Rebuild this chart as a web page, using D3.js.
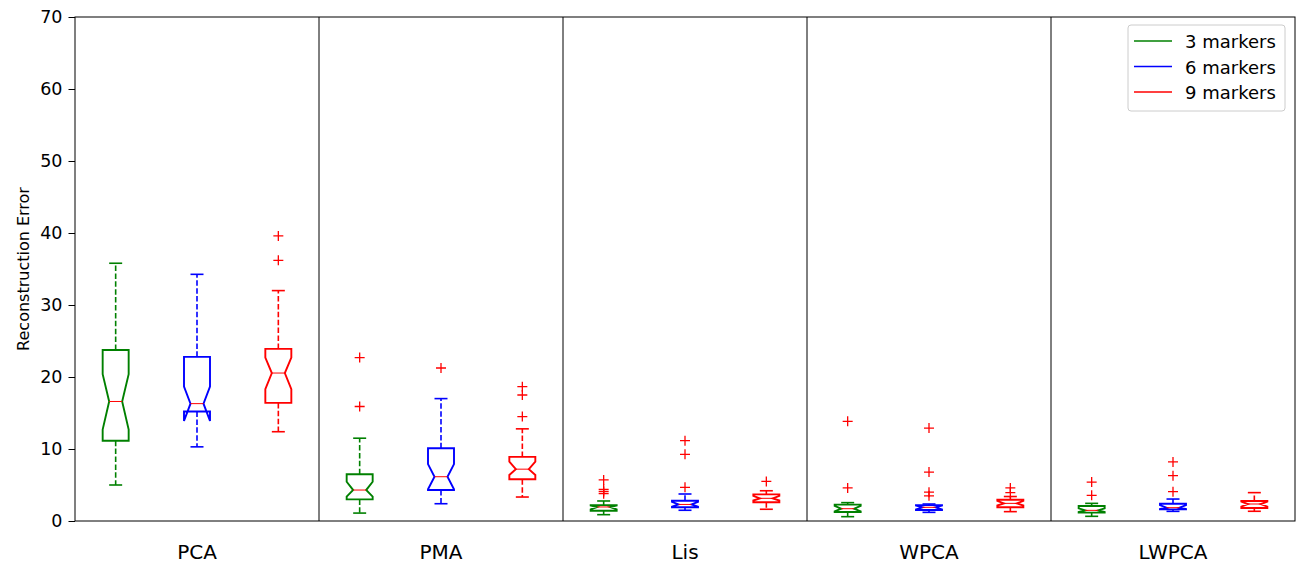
<!DOCTYPE html>
<html>
<head>
<meta charset="utf-8">
<script src="https://cdn.jsdelivr.net/npm/d3@7/dist/d3.min.js"></script>
<style>
  html, body { margin: 0; padding: 0; background: #fff; }
  text { font-family: "DejaVu Sans", sans-serif; }
</style>
</head>
<body>
<svg id="chart" width="1296" height="564"></svg>
<script>
// ---- data ----
const categories = ["PCA", "PMA", "Lis", "WPCA", "LWPCA"];
const seriesNames = ["3 markers", "6 markers", "9 markers"];
const seriesColors = ["#008000", "#0000ff", "#ff0000"];
const yTicks = [0, 10, 20, 30, 40, 50, 60, 70];

// per series (3, 6, 9 markers), per category
const whisLo = [
  [5.0, 1.1, 0.88, 0.6, 0.65],
  [10.3, 2.4, 1.49, 1.2, 1.34],
  [12.4, 3.33, 1.63, 1.3, 1.35]
];
const q1 = [
  [11.15, 3.0, 1.43, 1.25, 1.16],
  [15.2, 4.3, 1.9, 1.53, 1.62],
  [16.4, 5.8, 2.6, 1.9, 1.8]
];
const notchLo = [
  [12.7, 3.4, 1.6, 1.35, 1.25],
  [13.9, 4.4, 2.0, 1.6, 1.65],
  [18.3, 6.4, 2.85, 2.15, 2.0]
];
const medians = [
  [16.6, 4.3, 1.95, 1.71, 1.48],
  [16.3, 6.15, 2.3, 1.9, 1.85],
  [20.55, 7.2, 3.15, 2.45, 2.36]
];
const notchHi = [
  [20.4, 5.45, 2.15, 2.1, 1.75],
  [18.66, 7.9, 2.65, 2.15, 2.2],
  [22.7, 8.25, 3.5, 2.8, 2.7]
];
const q3 = [
  [23.75, 6.5, 2.2, 2.27, 2.08],
  [22.8, 10.1, 2.82, 2.2, 2.4],
  [23.9, 8.9, 3.7, 2.96, 2.78]
];
const whisHi = [
  [35.8, 11.5, 2.78, 2.55, 2.45],
  [34.26, 17.0, 3.75, 2.36, 3.05],
  [32.0, 12.8, 4.2, 3.4, 3.94]
];
const fliers = [
  [[], [22.7, 15.9], [5.7, 4.4, 4.1, 3.8], [13.85, 4.6], [5.4, 3.56]],
  [[], [21.25], [11.15, 9.26, 4.68], [12.9, 6.8, 4.0, 3.5], [8.2, 6.3, 4.07]],
  [[39.6, 36.2], [18.65, 17.5, 14.5], [5.5], [4.6, 3.95], []]
];

// ---- layout ----
const svg = d3.select("#chart");
const pLeft = 75, pRight = 1295, pTop = 17, pBottom = 521;
const boxW = 26;

const x = d3.scaleBand().domain(categories).range([pLeft, pRight]).padding(0);
const xs = d3.scalePoint().domain(seriesNames).range([0, x.bandwidth()]).padding(0.5);
const y = d3.scaleLinear().domain([0, 70]).range([pBottom, pTop]);

// group dividers
svg.append("g").selectAll("line")
  .data(categories.slice(1))
  .join("line")
  .attr("x1", d => x(d)).attr("x2", d => x(d))
  .attr("y1", pTop).attr("y2", pBottom)
  .attr("stroke", "#000").attr("stroke-width", 1);

// boxes
const boxes = [];
seriesNames.forEach((s, si) => {
  categories.forEach((c, ci) => {
    boxes.push({ s, si, c, ci,
      cx: x(c) + xs(s),
      wl: whisLo[si][ci], q1: q1[si][ci], nl: notchLo[si][ci], med: medians[si][ci],
      nh: notchHi[si][ci], q3: q3[si][ci], wh: whisHi[si][ci], fl: fliers[si][ci] });
  });
});

const g = svg.append("g");
boxes.forEach(b => {
  const col = seriesColors[b.si];
  const L = b.cx - boxW / 2, R = b.cx + boxW / 2, qw = boxW / 4;
  // whiskers (dashed)
  g.append("line").attr("x1", b.cx).attr("x2", b.cx).attr("y1", y(b.q3)).attr("y2", y(b.wh))
    .attr("stroke", col).attr("stroke-width", 1.6).attr("stroke-dasharray", "5.5,2.4");
  g.append("line").attr("x1", b.cx).attr("x2", b.cx).attr("y1", y(b.q1)).attr("y2", y(b.wl))
    .attr("stroke", col).attr("stroke-width", 1.6).attr("stroke-dasharray", "5.5,2.4");
  // caps
  [b.wh, b.wl].forEach(v => {
    g.append("line").attr("x1", b.cx - qw).attr("x2", b.cx + qw).attr("y1", y(v)).attr("y2", y(v))
      .attr("stroke", col).attr("stroke-width", 1.6);
  });
  // notched box
  const pts = [
    [L, y(b.q1)], [L, y(b.nl)], [L + qw, y(b.med)], [L, y(b.nh)], [L, y(b.q3)],
    [R, y(b.q3)], [R, y(b.nh)], [R - qw, y(b.med)], [R, y(b.nl)], [R, y(b.q1)]
  ];
  g.append("path").attr("d", d3.line()(pts) + "Z")
    .attr("fill", "none").attr("stroke", col).attr("stroke-width", 1.9).attr("stroke-linejoin", "miter");
  // median
  g.append("line").attr("x1", L + qw).attr("x2", R - qw).attr("y1", y(b.med)).attr("y2", y(b.med))
    .attr("stroke", "#ff0000").attr("stroke-width", 1);
  // fliers
  b.fl.forEach(v => {
    const py = y(v);
    g.append("path").attr("d", `M${b.cx - 5},${py}H${b.cx + 5}M${b.cx},${py - 5}V${py + 5}`)
      .attr("stroke", "#ff0000").attr("stroke-width", 1.3).attr("fill", "none");
  });
});

// frame
svg.append("rect").attr("x", pLeft).attr("y", pTop).attr("width", pRight - pLeft).attr("height", pBottom - pTop)
  .attr("fill", "none").attr("stroke", "#000").attr("stroke-width", 1);

// y axis
const yAxis = svg.append("g").attr("transform", `translate(${pLeft},0)`)
  .call(d3.axisLeft(y).tickValues(yTicks).tickSize(6.5).tickPadding(6).tickFormat(d3.format("d")));
yAxis.select(".domain").remove();
yAxis.selectAll("text").attr("font-size", 17.5).attr("fill", "#000").style("font-family", "DejaVu Sans");
yAxis.selectAll("line").attr("stroke", "#000");

svg.append("text").attr("transform", `translate(29,${(pTop + pBottom) / 2}) rotate(-90)`)
  .attr("text-anchor", "middle").attr("font-size", 16).text("Reconstruction Error");

// category labels
svg.append("g").selectAll("text").data(categories).join("text")
  .attr("x", d => x(d) + x.bandwidth() / 2).attr("y", 559)
  .attr("text-anchor", "middle").attr("font-size", 20).text(d => d);

// legend
const lg = svg.append("g");
lg.append("rect").attr("x", 1128).attr("y", 25).attr("width", 157).attr("height", 86).attr("rx", 3)
  .attr("fill", "#fff").attr("fill-opacity", 0.8).attr("stroke", "#cccccc").attr("stroke-width", 1);
seriesNames.forEach((s, i) => {
  const ly = 41 + i * 25.5;
  lg.append("line").attr("x1", 1134).attr("x2", 1172).attr("y1", ly).attr("y2", ly)
    .attr("stroke", seriesColors[i]).attr("stroke-width", 1.5);
  lg.append("text").attr("x", 1185).attr("y", ly + 7).attr("font-size", 18).text(s);
});
</script>
</body>
</html>
